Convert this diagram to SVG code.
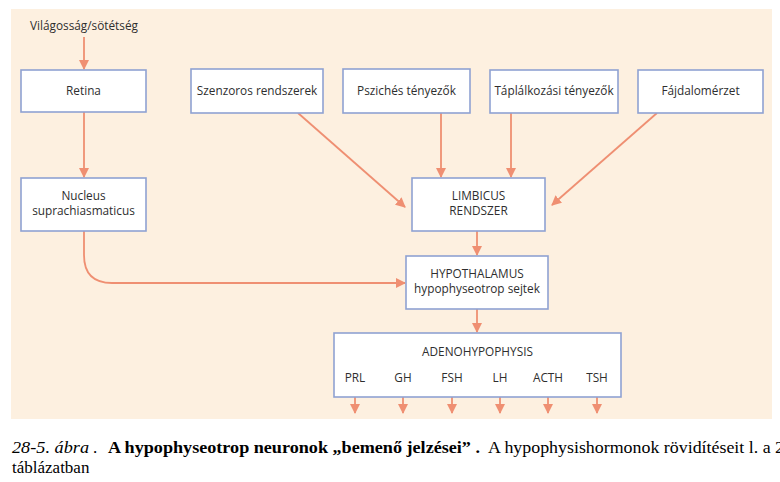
<svg xmlns="http://www.w3.org/2000/svg" width="780" height="482" viewBox="0 0 780 482">
<style>
.box{fill:#fff;stroke:#8fa2d2;stroke-width:1.6}
.t{font-family:"Open Sans","Liberation Sans",sans-serif;font-size:11.8px;fill:#2e2e2e;text-anchor:middle}
.c{stroke:#ef8f72;stroke-width:1.8;fill:none;marker-end:url(#ah)}
.cap{font-family:"Liberation Serif",serif;font-size:17px;fill:#000}
</style>
<defs>
<marker id="ah" viewBox="0 0 10 10" refX="9" refY="5" markerWidth="10" markerHeight="10" orient="auto" markerUnits="userSpaceOnUse">
<path d="M0,0 L10,5 L0,10 z" fill="#ef8f72"/>
</marker>
</defs>
<rect x="11" y="9" width="761" height="410" fill="#fdf0e0"/>
<g id="connectors">
<path class="c" d="M84,37 V69"/>
<path class="c" d="M84,112 V177"/>
<path class="c" d="M84,231 V255 Q84,283 112,283 H405"/>
<path class="c" d="M298,113 L405,207"/>
<path class="c" d="M441,113 V177"/>
<path class="c" d="M511,113 V177"/>
<path class="c" d="M657,113 L552,205"/>
<path class="c" d="M477,231 V255"/>
<path class="c" d="M477,309 V332"/>
<path class="c" d="M355,388 V413"/>
<path class="c" d="M403,388 V413"/>
<path class="c" d="M452,388 V413"/>
<path class="c" d="M500,388 V413"/>
<path class="c" d="M548,388 V413"/>
<path class="c" d="M597,388 V413"/>
</g>
<g id="input"><text class="t" x="84" y="30">Világosság/sötétség</text></g>
<g id="retina"><rect class="box" x="21" y="70" width="125" height="42"/><text class="t" x="83.5" y="95">Retina</text></g>
<g id="nucleus"><rect class="box" x="21" y="178" width="125" height="53"/><text class="t" x="83.5" y="200">Nucleus</text><text class="t" x="83.5" y="215">suprachiasmaticus</text></g>
<g id="szenzoros"><rect class="box" x="191" y="69" width="132" height="44"/><text class="t" x="257" y="95">Szenzoros rendszerek</text></g>
<g id="pszichés"><rect class="box" x="343" y="69" width="127" height="44"/><text class="t" x="406.5" y="95">Pszichés tényezők</text></g>
<g id="táplálkozási"><rect class="box" x="490" y="70" width="128" height="43"/><text class="t" x="554" y="95">Táplálkozási tényezők</text></g>
<g id="fájdalom"><rect class="box" x="638" y="70" width="125" height="43"/><text class="t" x="700.5" y="95">Fájdalomérzet</text></g>
<g id="limbicus"><rect class="box" x="412" y="178" width="133" height="53"/><text class="t" x="478.5" y="200">LIMBICUS</text><text class="t" x="478.5" y="215">RENDSZER</text></g>
<g id="hypothalamus"><rect class="box" x="406" y="256" width="142" height="53"/><text class="t" x="477" y="278">HYPOTHALAMUS</text><text class="t" x="477" y="293">hypophyseotrop sejtek</text></g>
<g id="adenohypophysis"><rect class="box" x="334" y="333" width="287" height="64"/><text class="t" x="477.5" y="356">ADENOHYPOPHYSIS</text>
<text class="t" x="355" y="382">PRL</text><text class="t" x="403" y="382">GH</text><text class="t" x="452" y="382">FSH</text><text class="t" x="500" y="382">LH</text><text class="t" x="548" y="382">ACTH</text><text class="t" x="597" y="382">TSH</text></g>
<g id="caption">
<text class="cap" x="12" y="453" font-style="italic" textLength="77" lengthAdjust="spacingAndGlyphs">28-5. ábra</text>
<text class="cap" x="93" y="453">.</text>
<text class="cap" x="108" y="453" font-weight="bold" textLength="372" lengthAdjust="spacingAndGlyphs">A hypophyseotrop neuronok „bemenő jelzései” .</text>
<text class="cap" x="488" y="453" textLength="296" lengthAdjust="spacingAndGlyphs">A hypophysishormonok rövidítéseit l. a 2</text>
<text class="cap" x="12" y="473">táblázatban</text>
</g>
</svg>
